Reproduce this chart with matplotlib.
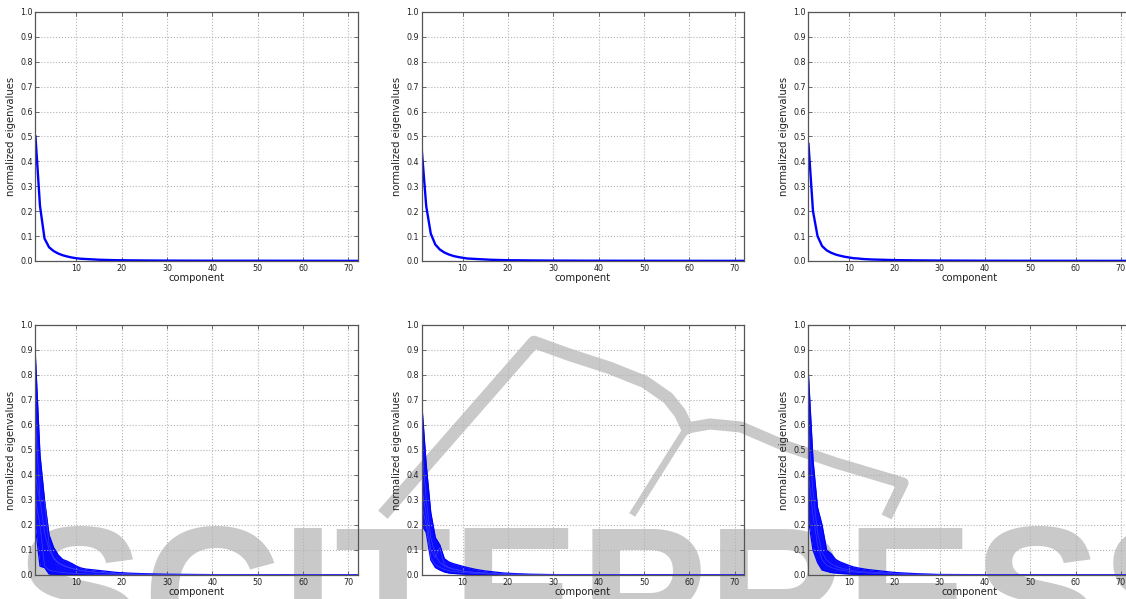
"""
Normalized eigenvalue spectra, 2x3 panels (PCA components 1..72)
"""

import matplotlib
matplotlib.use("Agg")
import matplotlib.pyplot as plt
from matplotlib.lines import Line2D

plt.rcParams["font.family"] = ["DejaVu Sans"]

# component index at which values were read
comp = [1, 2, 3, 4, 5, 6, 7, 8, 9, 10, 11, 12, 13, 14, 15, 16, 17, 18, 19, 20,
        22, 25, 30, 40, 50, 60, 72]

# top row: single spectra
top_left = [0.50, 0.22, 0.09, 0.055, 0.040, 0.030, 0.023, 0.018, 0.014, 0.011,
            0.009, 0.008, 0.007, 0.006, 0.005, 0.0045, 0.004, 0.0035, 0.003, 0.003,
            0.0025, 0.002, 0.0015, 0.001, 0.001, 0.0008, 0.0005]
top_mid = [0.45, 0.22, 0.11, 0.066, 0.046, 0.034, 0.026, 0.020, 0.016, 0.013,
           0.010, 0.009, 0.008, 0.007, 0.006, 0.005, 0.0045, 0.004, 0.0035, 0.003,
           0.0028, 0.0022, 0.0016, 0.001, 0.0008, 0.0006, 0.0005]
top_right = [0.47, 0.20, 0.10, 0.060, 0.043, 0.033, 0.026, 0.021, 0.017, 0.014,
             0.011, 0.010, 0.008, 0.007, 0.006, 0.0055, 0.005, 0.0045, 0.004, 0.0035,
             0.003, 0.0024, 0.0017, 0.001, 0.0008, 0.0006, 0.0005]

# bottom row: bundles of spectra -> upper / lower envelope + a few traces
bl_upper = [0.87, 0.48, 0.30, 0.16, 0.11, 0.080, 0.062, 0.055, 0.046, 0.036,
            0.028, 0.024, 0.022, 0.020, 0.018, 0.016, 0.014, 0.012, 0.010, 0.009,
            0.007, 0.005, 0.003, 0.0015, 0.001, 0.0008, 0.0005]
bl_lower = [0.19, 0.035, 0.030, 0.004, 0.003, 0.002, 0.0015, 0.001, 0.001, 0.001,
            0.0008, 0.0007, 0.0006, 0.0005, 0.0004, 0.0004, 0.0003, 0.0003, 0.0002, 0.0002,
            0.0002, 0.0001, 0.0001, 0.0, 0.0, 0.0, 0.0]
bl_traces = [
    [0.62, 0.30, 0.17, 0.10, 0.065, 0.048, 0.038, 0.031, 0.026, 0.021,
     0.017, 0.015, 0.013, 0.011, 0.010, 0.009, 0.008, 0.007, 0.006, 0.005,
     0.004, 0.003, 0.0018, 0.001, 0.0008, 0.0006, 0.0004],
    [0.40, 0.29, 0.30, 0.12, 0.07, 0.05, 0.04, 0.033, 0.027, 0.022,
     0.018, 0.016, 0.014, 0.012, 0.010, 0.009, 0.008, 0.007, 0.006, 0.005,
     0.004, 0.003, 0.0018, 0.001, 0.0008, 0.0006, 0.0004],
    [0.30, 0.20, 0.035, 0.02, 0.015, 0.012, 0.010, 0.008, 0.007, 0.006,
     0.005, 0.0045, 0.004, 0.0035, 0.003, 0.0028, 0.0025, 0.0022, 0.002, 0.0018,
     0.0015, 0.001, 0.0007, 0.0004, 0.0003, 0.0002, 0.0001],
]

bm_upper = [0.69, 0.44, 0.25, 0.15, 0.12, 0.065, 0.052, 0.045, 0.040, 0.035,
            0.030, 0.026, 0.022, 0.019, 0.016, 0.014, 0.012, 0.010, 0.008, 0.007,
            0.005, 0.003, 0.0015, 0.001, 0.0008, 0.0006, 0.0005]
bm_lower = [0.20, 0.17, 0.06, 0.030, 0.020, 0.012, 0.008, 0.006, 0.005, 0.004,
            0.003, 0.0025, 0.002, 0.0018, 0.0015, 0.0013, 0.0011, 0.001, 0.0009, 0.0008,
            0.0006, 0.0004, 0.0002, 0.0001, 0.0, 0.0, 0.0]
bm_traces = [
    [0.52, 0.30, 0.15, 0.08, 0.050, 0.036, 0.028, 0.023, 0.019, 0.016,
     0.013, 0.011, 0.010, 0.009, 0.008, 0.007, 0.006, 0.005, 0.0045, 0.004,
     0.003, 0.002, 0.0012, 0.0008, 0.0006, 0.0005, 0.0004],
    [0.35, 0.24, 0.10, 0.07, 0.11, 0.04, 0.030, 0.024, 0.020, 0.017,
     0.014, 0.012, 0.010, 0.009, 0.008, 0.007, 0.006, 0.005, 0.0045, 0.004,
     0.003, 0.002, 0.0012, 0.0008, 0.0006, 0.0005, 0.0004],
    [0.28, 0.20, 0.07, 0.04, 0.030, 0.022, 0.017, 0.014, 0.012, 0.010,
     0.008, 0.007, 0.006, 0.005, 0.0045, 0.004, 0.0035, 0.003, 0.0025, 0.002,
     0.0016, 0.001, 0.0007, 0.0004, 0.0003, 0.0002, 0.0001],
]

br_upper = [0.80, 0.46, 0.27, 0.20, 0.10, 0.085, 0.062, 0.052, 0.045, 0.038,
            0.032, 0.028, 0.025, 0.022, 0.020, 0.018, 0.016, 0.014, 0.012, 0.010,
            0.008, 0.005, 0.002, 0.0012, 0.001, 0.0008, 0.0005]
br_lower = [0.22, 0.10, 0.050, 0.020, 0.015, 0.010, 0.008, 0.006, 0.005, 0.004,
            0.003, 0.0025, 0.002, 0.0018, 0.0015, 0.0013, 0.0011, 0.001, 0.0009, 0.0008,
            0.0006, 0.0004, 0.0002, 0.0001, 0.0, 0.0, 0.0]
br_traces = [
    [0.58, 0.33, 0.17, 0.09, 0.060, 0.045, 0.035, 0.029, 0.024, 0.020,
     0.017, 0.015, 0.013, 0.012, 0.011, 0.010, 0.009, 0.008, 0.007, 0.006,
     0.0045, 0.003, 0.0014, 0.0009, 0.0007, 0.0006, 0.0004],
    [0.40, 0.24, 0.12, 0.06, 0.040, 0.030, 0.024, 0.020, 0.017, 0.014,
     0.012, 0.010, 0.009, 0.008, 0.007, 0.006, 0.0055, 0.005, 0.0045, 0.004,
     0.003, 0.002, 0.001, 0.0006, 0.0005, 0.0004, 0.0003],
]

xticks = [10, 20, 30, 40, 50, 60, 70]
yticks = [0.0, 0.1, 0.2, 0.3, 0.4, 0.5, 0.6, 0.7, 0.8, 0.9, 1.0]

BLUE = "#0000ff"
WM = "#c9c9c9"

fig = plt.figure(figsize=(11.26, 5.99), dpi=100)

# panel boxes in figure fractions (the right column runs off the page)
col_x = [0.0315, 0.3745, 0.7180]
col_w = [0.2860, 0.2862, 0.2855]
row_y = [0.5643, 0.0401]
row_h = [0.4157, 0.4174]


def style(ax):
    ax.set_facecolor("none")
    ax.set_xlim(1, 72)
    ax.set_ylim(0, 1.0)
    ax.set_xticks(xticks)
    ax.set_yticks(yticks)
    ax.grid(True, color="#b4b4b4", linestyle=":", linewidth=0.8)
    ax.tick_params(direction="in", length=3, width=0.6, colors="#555555",
                   labelcolor="#222222", labelsize=5.8, pad=2,
                   top=True, right=True)
    for s in ax.spines.values():
        s.set_color("#555555")
        s.set_linewidth(0.9)
    ax.set_xlabel("component", fontsize=7.2, labelpad=0.5, color="#222222")
    ax.set_ylabel("normalized eigenvalues", fontsize=7.2, labelpad=3, color="#222222")


axes = {}
for r in range(2):
    for c in range(3):
        ax = fig.add_axes([col_x[c], row_y[r], col_w[c], row_h[r]])
        style(ax)
        axes[(r, c)] = ax

# top row
for c, vals in enumerate([top_left, top_mid, top_right]):
    axes[(0, c)].plot(comp, vals, color=BLUE, linewidth=1.7)

# bottom row
bottom = [(bl_upper, bl_lower, bl_traces),
          (bm_upper, bm_lower, bm_traces),
          (br_upper, br_lower, br_traces)]
for c, (up, lo, traces) in enumerate(bottom):
    ax = axes[(1, c)]
    ax.fill_between(comp, lo, up, color=BLUE, alpha=0.95, linewidth=0)
    ax.plot(comp, up, color=BLUE, linewidth=0.9)
    ax.plot(comp, lo, color=BLUE, linewidth=0.9)
    for t in traces:
        ax.plot(comp, t, color="#3a3aff", linewidth=0.5)

# publisher watermark (behind the panels)
W, H = 1126.0, 599.0
fig.text(15 / W, (H - 660) / H, "SCITEPRESS", fontsize=138, fontweight="bold",
         family="Liberation Sans", color=WM, ha="left", va="baseline", zorder=-5)

logo_main = [(387, 510), (534, 342), (570, 355), (610, 368), (645, 382),
             (668, 398), (680, 413), (687, 428)]
logo_arc = [(687, 428), (710, 424), (741, 427), (783, 445), (836, 463), (903, 483), (889, 512)]
logo_leg = [(687, 428), (634, 512)]
for pts, lw in [(logo_main, 9), (logo_arc, 8), (logo_leg, 5)]:
    xs = [p[0] / W for p in pts]
    ys = [1 - p[1] / H for p in pts]
    fig.add_artist(Line2D(xs, ys, transform=fig.transFigure, color=WM,
                          linewidth=lw, solid_joinstyle="round", zorder=-5))

plt.savefig("out.png", dpi=100)
